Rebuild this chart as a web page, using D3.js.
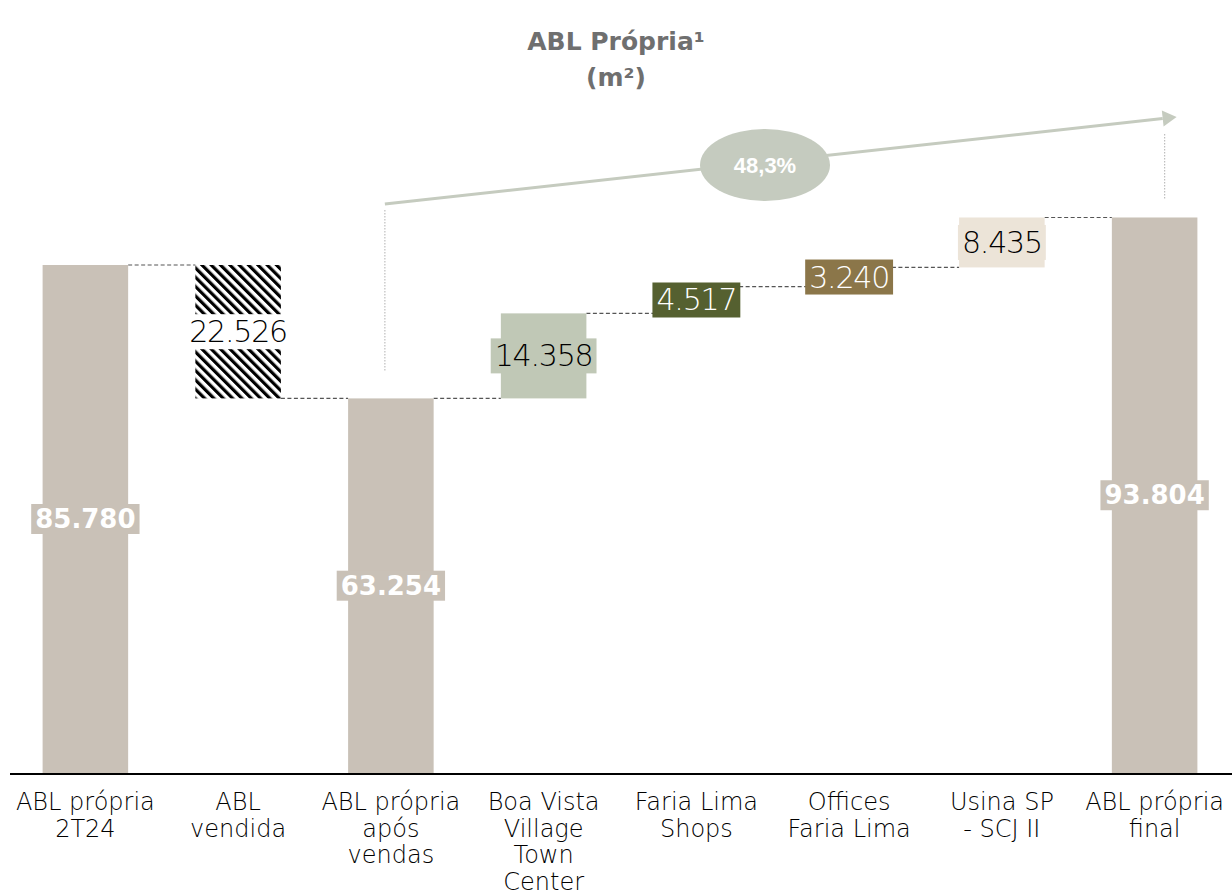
<!DOCTYPE html>
<html>
<head>
<meta charset="utf-8">
<script src="https://cdn.jsdelivr.net/npm/d3@7/dist/d3.min.js"></script>
<style>
  html, body { margin: 0; padding: 0; background: #fff; }
  svg { display: block; }
</style>
</head>
<body>
<svg id="chart" width="1232" height="896"></svg>
<script>
// Waterfall of own GLA (m²)
const categories = [
  ["ABL própria", "2T24"],
  ["ABL", "vendida"],
  ["ABL própria", "após", "vendas"],
  ["Boa Vista", "Village", "Town", "Center"],
  ["Faria Lima", "Shops"],
  ["Offices", "Faria Lima"],
  ["Usina SP", "- SCJ II"],
  ["ABL própria", "final"]
];
const values = [85780, -22526, 63254, 14358, 4517, 3240, 8435, 93804];
const kinds  = ["total", "delta", "total", "delta", "delta", "delta", "delta", "total"];
const fills  = ["#c9c1b7", "hatch", "#c9c1b7", "#c0c8b6", "#556030", "#8b7649", "#ece4d8", "#c9c1b7"];
const textColors = ["#ffffff", "#000000", "#ffffff", "#000000", "#ffffff", "#ffffff", "#000000", "#ffffff"];

const W = 1232, H = 896;
const svg = d3.select("#chart");
const labelFont = "'DejaVu Sans', sans-serif";

const x = d3.scaleBand()
  .domain(d3.range(categories.length))
  .range([9, 1231])
  .paddingInner(0.44)
  .paddingOuter(0.22);

const y = d3.scaleLinear().domain([0, 85780]).range([773, 265]);

// running start/end of each step
let running = 0;
const steps = values.map((v, i) => {
  let y0, y1;
  if (kinds[i] === "total") { y0 = 0; y1 = v; running = v; }
  else { y0 = running; y1 = running + v; running = y1; }
  return { i, v, lo: Math.min(y0, y1), hi: Math.max(y0, y1), end: y1 };
});

// hatch pattern for the sold area
const defs = svg.append("defs");
const pat = defs.append("pattern")
  .attr("id", "hatch")
  .attr("patternUnits", "userSpaceOnUse")
  .attr("width", 6.6).attr("height", 6.6)
  .attr("patternTransform", "rotate(-45)");
pat.append("rect").attr("width", 6.6).attr("height", 6.6).attr("fill", "#fff");
pat.append("rect").attr("width", 3.2).attr("height", 6.6).attr("fill", "#000");

// title
const title = svg.append("text")
  .attr("x", 616).attr("text-anchor", "middle")
  .attr("font-family", "'DejaVu Sans', sans-serif")
  .attr("font-weight", "bold").attr("font-size", 25)
  .attr("fill", "#6f6f6f");
title.append("tspan").attr("x", 616).attr("y", 50).text("ABL Própria¹");
title.append("tspan").attr("x", 616).attr("y", 86).text("(m²)");

// connectors between consecutive bars
const conn = svg.append("g")
  .attr("stroke", "#555").attr("stroke-width", 1.2)
  .attr("stroke-dasharray", "4,2.5").attr("fill", "none");
steps.slice(0, -1).forEach((s, k) => {
  const level = y(s.end);
  conn.append("line")
    .attr("x1", x(k) + x.bandwidth())
    .attr("x2", x(k + 1))
    .attr("y1", level).attr("y2", level);
});

// bars
svg.append("g").selectAll("rect")
  .data(steps)
  .join("rect")
  .attr("x", d => x(d.i))
  .attr("width", x.bandwidth())
  .attr("y", d => y(d.hi))
  .attr("height", d => y(d.lo) - y(d.hi))
  .attr("fill", d => fills[d.i] === "hatch" ? "url(#hatch)" : fills[d.i]);

// value labels with background boxes
const fmt = v => d3.format(",")(Math.abs(v)).replace(/,/g, ".");
const labels = svg.append("g");
steps.forEach(s => {
  const cx = x(s.i) + x.bandwidth() / 2;
  const cy = (y(s.lo) + y(s.hi)) / 2;
  const isTotal = kinds[s.i] === "total";
  const g = labels.append("g");
  const box = g.append("rect");
  const t = g.append("text")
    .attr("x", cx).attr("y", cy)
    .attr("text-anchor", "middle")
    .attr("dominant-baseline", "central")
    .attr("font-family", labelFont)
    .attr("font-weight", isTotal ? "bold" : 200)
    .attr("font-size", isTotal ? 26 : 30)
    .attr("letter-spacing", isTotal ? 0 : -1.2)
    .attr("fill", textColors[s.i])
    .text(fmt(s.v));
  const bb = t.node().getBBox();
  const padX = 4, padY = 0;
  box.attr("x", bb.x - padX).attr("y", bb.y - padY)
    .attr("width", bb.width + 2 * padX).attr("height", bb.height + 2 * padY)
    .attr("fill", fills[s.i] === "hatch" ? "#fff" : fills[s.i]);
});

// axis baseline and category labels
svg.append("line")
  .attr("x1", 10).attr("x2", W).attr("y1", 774).attr("y2", 774)
  .attr("stroke", "#000").attr("stroke-width", 2);

const catG = svg.append("g")
  .attr("font-family", labelFont).attr("font-weight", 200)
  .attr("font-size", 24).attr("fill", "#000");
categories.forEach((lines, i) => {
  const t = catG.append("text")
    .attr("text-anchor", "middle");
  lines.forEach((ln, j) => {
    t.append("tspan")
      .attr("x", x(i) + x.bandwidth() / 2)
      .attr("y", 810 + j * 26.5)
      .text(ln);
  });
});

// growth annotation from post-sale GLA to final GLA
const startIdx = 2, endIdx = 7;
const growth = values[endIdx] / values[startIdx] - 1;
const ax1 = x(startIdx) + x.bandwidth() / 2 - 6, ay1 = 204;
const ax2 = x(endIdx) + x.bandwidth() / 2 + 22, ay2 = 117;
const arrowColor = "#c5cbbf";

svg.append("line")
  .attr("x1", ax1).attr("x2", ax1)
  .attr("y1", 210).attr("y2", 372)
  .attr("stroke", "#bdbdbd").attr("stroke-width", 1.2)
  .attr("stroke-dasharray", "1.5,1.5");
svg.append("line")
  .attr("x1", x(endIdx) + x.bandwidth() / 2 + 10).attr("x2", x(endIdx) + x.bandwidth() / 2 + 10)
  .attr("y1", 134).attr("y2", 200)
  .attr("stroke", "#bdbdbd").attr("stroke-width", 1.2)
  .attr("stroke-dasharray", "1.5,1.5");

const ang = Math.atan2(ay2 - ay1, ax2 - ax1);
const headLen = 14;
svg.append("line")
  .attr("x1", ax1).attr("y1", ay1)
  .attr("x2", ax2 - headLen * Math.cos(ang)).attr("y2", ay2 - headLen * Math.sin(ang))
  .attr("stroke", arrowColor).attr("stroke-width", 3);
const hw = 8;
const bx = ax2 - headLen * Math.cos(ang), by = ay2 - headLen * Math.sin(ang);
svg.append("path")
  .attr("d", `M${ax2},${ay2} L${bx + hw * Math.sin(ang)},${by - hw * Math.cos(ang)} L${bx - hw * Math.sin(ang)},${by + hw * Math.cos(ang)} Z`)
  .attr("fill", arrowColor);

const ex = 765, ey = 165;
svg.append("ellipse")
  .attr("cx", ex).attr("cy", ey).attr("rx", 65).attr("ry", 36)
  .attr("fill", arrowColor);
svg.append("text")
  .attr("x", ex).attr("y", ey)
  .attr("text-anchor", "middle").attr("dominant-baseline", "central")
  .attr("font-family", "'Liberation Sans Narrow', 'Liberation Sans', sans-serif")
  .attr("font-weight", "bold").attr("font-size", 22)
  .attr("fill", "#fff")
  .text(d3.format(".1f")(growth * 100).replace(".", ",") + "%");
</script>
</body>
</html>
